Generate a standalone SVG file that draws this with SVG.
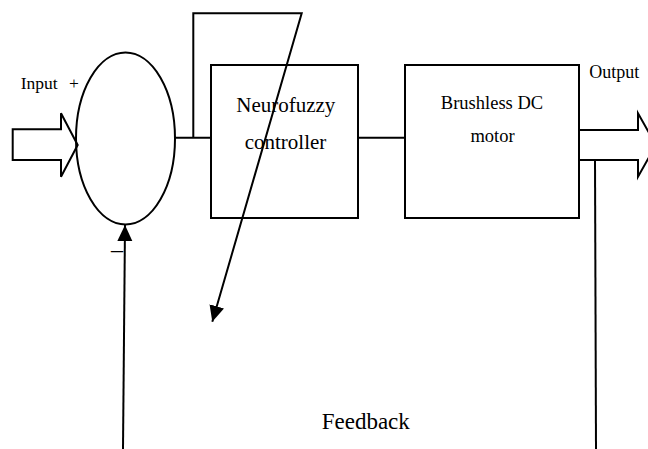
<svg xmlns="http://www.w3.org/2000/svg" width="648" height="449" viewBox="0 0 648 449">
<style>
.ln{fill:none;stroke:#000;stroke-width:2}
.box{fill:#fff;stroke:#000;stroke-width:2}
.t{font-family:"Liberation Serif","Times New Roman",serif;fill:#000}
.c{text-anchor:middle}
</style>
<defs>
<marker id="ah" markerUnits="userSpaceOnUse" markerWidth="18" markerHeight="16" refX="16" refY="7.5" orient="auto">
<path d="M0,0 L16,7.5 L0,15 Z" fill="#000"/>
</marker>
</defs>
<rect width="648" height="449" fill="#fff"/>
<g id="input">
<path class="ln" d="M12.7,129.3 H61 V113.3 L77.7,145 L61,176.7 V160 H12.7 Z"/>
<text class="t" font-size="17.5" x="20.7" y="89">Input<tspan x="69">+</tspan></text>
</g>
<g id="summer">
<ellipse class="ln" cx="125.5" cy="138.5" rx="49.5" ry="86" stroke-width="1.8"/>
<text class="t" font-size="24" x="111" y="257">–</text>
</g>
<g id="neurofuzzy">
<rect class="box" x="211" y="65" width="147" height="153"/>
<text class="t c" font-size="21" x="285.8" y="111.7">Neurofuzzy</text>
<text class="t c" font-size="21" x="285.5" y="149">controller</text>
</g>
<g id="motor">
<rect class="box" x="405" y="65" width="174" height="153"/>
<text class="t c" font-size="18.5" x="492" y="109.3">Brushless DC</text>
<text class="t c" font-size="18.5" x="492.5" y="141.7">motor</text>
</g>
<g id="output">
<path class="ln" d="M579,130 H638 V113.3 L656,145 L638,176.7 V160 H579"/>
<text class="t" font-size="18" x="589.3" y="78.3">Output</text>
</g>
<g id="connectors">
<line class="ln" x1="175" y1="137.7" x2="211" y2="137.7"/>
<line class="ln" x1="358" y1="137.7" x2="405" y2="137.7"/>
<polyline class="ln" stroke-width="2.5" points="193.3,137.7 193.3,13.3 301.7,13.3 212.3,321.7" marker-end="url(#ah)"/>
<line class="ln" x1="595" y1="160" x2="596" y2="449"/>
<line class="ln" x1="123" y1="449" x2="125" y2="225" marker-end="url(#ah)"/>
</g>
<text class="t" font-size="23" x="321.7" y="429.3">Feedback</text>
</svg>
